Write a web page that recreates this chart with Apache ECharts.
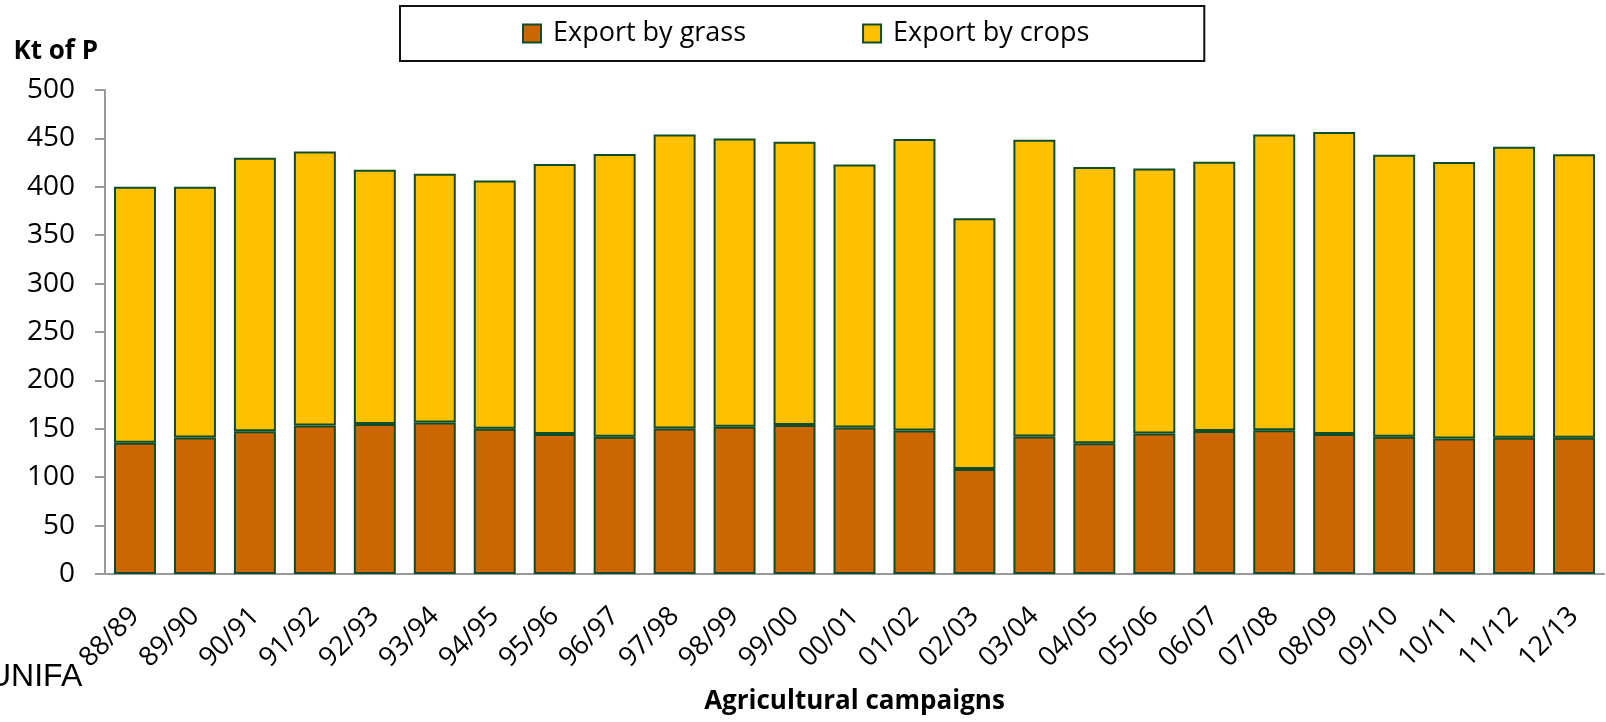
<!DOCTYPE html>
<html>
<head>
<meta charset="utf-8">
<title>Export of P</title>
<script src="https://cdn.jsdelivr.net/npm/echarts@6/dist/echarts.min.js"></script>
<style>
  html, body { margin: 0; padding: 0; background: #fff; }
  #chart { width: 1606px; height: 722px; }
</style>
</head>
<body>
<div id="chart"></div>
<script>
const campaigns = ['88/89', '89/90', '90/91', '91/92', '92/93', '93/94', '94/95', '95/96', '96/97',
  '97/98', '98/99', '99/00', '00/01', '01/02', '02/03', '03/04', '04/05', '05/06', '06/07',
  '07/08', '08/09', '09/10', '10/11', '11/12', '12/13']
// Kt of P
const exportByGrass = [135.5, 141, 147.5, 153.5, 155, 156.5, 150, 144.5, 141.7, 150.3, 152, 154, 151.4,
  148.3, 108.6, 142, 135.2, 145.2, 147.6, 148.6, 144.5, 141.7, 140, 140.7, 140.7]
const exportByCrops = [264.5, 259, 282.5, 283, 262.5, 257, 256.5, 279, 292.3, 303.7, 298, 292.5, 271.6,
  301.2, 258.9, 306.5, 285.3, 273.8, 278.4, 305.4, 312, 291.3, 285.5, 300.8, 292.8]
const yTicks = [0, 50, 100, 150, 200, 250, 300, 350, 400, 450, 500]

const labelFont = '"Open Sans", "Noto Sans", sans-serif'
const axisColor = '#9a9a9a'
const edge = '#0e4d2a'

const chart = echarts.init(document.getElementById('chart'))
const option = {
  animation: false,
  grid: { left: 105, right: 2, top: 90, bottom: 148 },
  legend: {
    left: 400,
    top: 6,
    padding: [14, 115, 14, 122],
    borderColor: '#111',
    borderWidth: 2,
    icon: 'rect',
    itemWidth: 18,
    itemHeight: 18,
    itemGap: 116,
    itemStyle: { borderColor: edge, borderWidth: 2 },
    textStyle: { fontFamily: labelFont, fontSize: 27, color: '#000', padding: [0, 0, 0, 7] },
    data: ['Export by grass', 'Export by crops']
  },
  xAxis: {
    type: 'category',
    data: campaigns,
    name: 'Agricultural campaigns',
    nameLocation: 'middle',
    nameGap: 128,
    nameTextStyle: { fontFamily: labelFont, fontSize: 26, fontWeight: 'bold', color: '#000', verticalAlign: 'middle' },
    axisLine: { lineStyle: { color: axisColor, width: 2 } },
    axisTick: { length: 10, lineStyle: { color: axisColor, width: 2 } },
    axisLabel: { rotate: 45, margin: 38, fontFamily: labelFont, fontSize: 27, color: '#000' }
  },
  yAxis: {
    type: 'value',
    min: 0,
    max: 500,
    interval: 50,
    name: 'Kt of P',
    nameLocation: 'end',
    nameGap: 38,
    nameTextStyle: {
      fontFamily: labelFont, fontSize: 26, fontWeight: 'bold', color: '#000',
      align: 'right', verticalAlign: 'middle', padding: [0, 7, 0, 0]
    },
    axisLine: { show: true, lineStyle: { color: axisColor, width: 2 } },
    axisTick: { show: true, length: 10, lineStyle: { color: axisColor, width: 2 } },
    splitLine: { show: false },
    axisLabel: {
      margin: 30,
      fontFamily: labelFont,
      fontSize: 28,
      color: '#000',
      formatter: v => (yTicks.includes(v) ? String(v) : '')
    }
  },
  series: [
    {
      name: 'Export by grass',
      type: 'bar',
      stack: 'p',
      barCategoryGap: '30%',
      itemStyle: { color: '#cc6600', borderColor: edge, borderWidth: 2 },
      data: exportByGrass
    },
    {
      name: 'Export by crops',
      type: 'bar',
      stack: 'p',
      barCategoryGap: '30%',
      itemStyle: { color: '#ffc000', borderColor: edge, borderWidth: 2 },
      data: exportByCrops
    }
  ],
  graphic: [
    {
      type: 'text',
      left: -12,
      top: 661,
      style: { text: 'UNIFA', fontFamily: '"Liberation Sans", Arial, sans-serif', fontSize: 32, fill: '#000' }
    }
  ]
}
chart.setOption(option)
</script>
</body>
</html>
